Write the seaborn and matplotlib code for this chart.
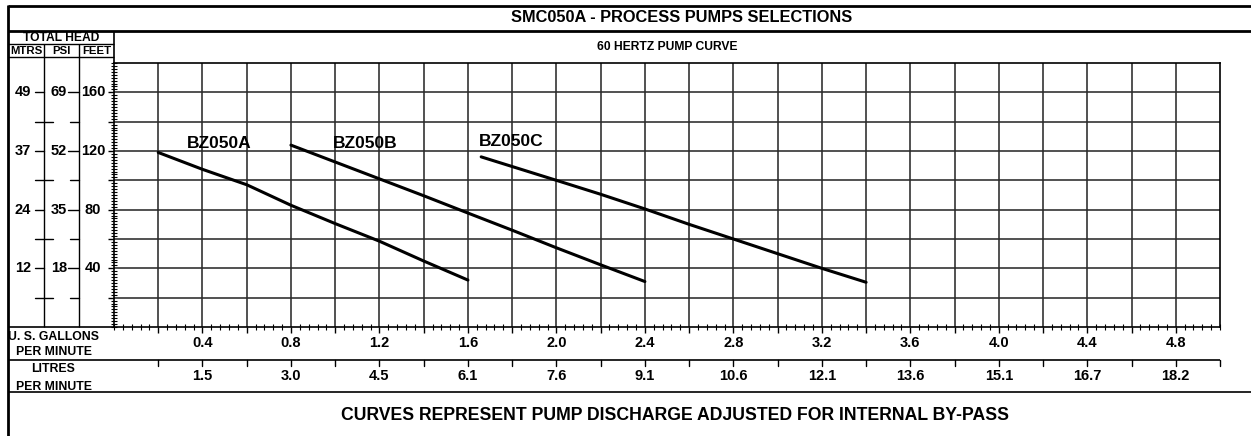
import numpy as np
import pandas as pd
import matplotlib
matplotlib.use('Agg')
import matplotlib.pyplot as plt
import matplotlib.transforms as mtransforms
from matplotlib.ticker import MultipleLocator
import seaborn as sns

# ==========================
# data
# ==========================
pumps = ['BZ050A', 'BZ050B', 'BZ050C']
flow_a = [0.2, 0.4, 0.6, 0.8, 1.0, 1.2, 1.4, 1.6]
head_a = [119, 107.5, 97, 83, 70.5, 58.5, 45, 32]
flow_b = [0.8, 1.0, 1.2, 1.4, 1.6, 1.8, 2.0, 2.2, 2.4]
head_b = [124, 112.5, 101, 89.5, 77.7, 66, 54, 42.4, 31]
flow_c = [1.66, 2.0, 2.2, 2.4, 2.6, 2.8, 3.0, 3.2, 3.4]
head_c = [116, 100, 90.5, 80.5, 70, 60, 50, 40, 30.5]

# where the pump names sit (gpm, feet)
label_flow = [0.33, 0.99, 1.65]
label_head = [122, 122, 123.5]

# head scales, all tied to the feet positions
feet_ticks = [40, 80, 120, 160]
feet_labels = ['40', '80', '120', '160']
mtrs_labels = ['12', '24', '37', '49']
psi_labels = ['18', '35', '52', '69']
feet_minor_rows = [20, 60, 100, 140]

# flow scales
gpm_ticks = [0.4, 0.8, 1.2, 1.6, 2.0, 2.4, 2.8, 3.2, 3.6, 4.0, 4.4, 4.8]
gpm_labels = ['0.4', '0.8', '1.2', '1.6', '2.0', '2.4', '2.8', '3.2', '3.6', '4.0', '4.4', '4.8']
lpm_labels = ['1.5', '3.0', '4.5', '6.1', '7.6', '9.1', '10.6', '12.1', '13.6', '15.1', '16.7', '18.2']

df = pd.concat([
    pd.DataFrame({'flow': flow_a, 'head': head_a, 'pump': pumps[0]}),
    pd.DataFrame({'flow': flow_b, 'head': head_b, 'pump': pumps[1]}),
    pd.DataFrame({'flow': flow_c, 'head': head_c, 'pump': pumps[2]}),
])

# ==========================
# figure / layout (pixels of the 1251x436 sheet)
# ==========================
sns.set_theme(style='white')
plt.rcParams['font.family'] = ['Liberation Sans', 'DejaVu Sans']
plt.rcParams['font.weight'] = 'bold'
plt.rcParams['text.color'] = 'black'

W, H = 1251, 436
fig = plt.figure(figsize=(W / 100, H / 100), dpi=100)


def px_box(x0, y0, x1, y1):
    return [x0 / W, 1 - y1 / H, (x1 - x0) / W, (y1 - y0) / H]


ax = fig.add_axes(px_box(114, 63, 1220, 327))
ov = fig.add_axes([0, 0, 1, 1], zorder=5)
ov.set_xlim(0, W)
ov.set_ylim(H, 0)
ov.set_autoscale_on(False)
ov.axis('off')
ov.patch.set_alpha(0)

# ==========================
# main chart
# ==========================
sns.lineplot(data=df, x='flow', y='head', hue='pump', estimator=None, sort=False,
             palette={p: 'black' for p in pumps}, legend=False, lw=2.2, ax=ax)

ax.set_xlim(0, 5.0)
ax.set_ylim(0, 180)
ax.set_xlabel('')
ax.set_ylabel('')
ax.set_xticks(np.round(np.arange(0.2, 4.9, 0.2), 1))
ax.set_yticks(np.arange(20, 161, 20))
ax.xaxis.set_minor_locator(MultipleLocator(0.04))
ax.yaxis.set_minor_locator(MultipleLocator(2))
ax.tick_params(which='major', direction='out', length=4.3, width=1.0, color='black',
               labelbottom=False, labelleft=False, bottom=True, left=True)
ax.tick_params(which='minor', direction='inout', length=4.3, width=0.8, color='black',
               bottom=True, left=True)
ax.grid(True, which='major', color='#2a2a2a', lw=1.15)
for s in ax.spines.values():
    s.set_color('black')
    s.set_linewidth(1.2)

for name, fx, fy in zip(pumps, label_flow, label_head):
    ax.text(fx, fy, name, fontsize=12.5, fontweight='bold', ha='left', va='baseline')

# ==========================
# frame, header and side scales
# ==========================
def hline(y, x0, x1, lw=1.0):
    ov.plot([x0, x1], [y, y], color='black', lw=lw, solid_capstyle='butt')


def vline(x, y0, y1, lw=1.0):
    ov.plot([x, x], [y0, y1], color='black', lw=lw, solid_capstyle='butt')


vline(8, 5, 436, lw=2.0)
hline(6, 8, 1251, lw=2.0)
hline(31, 8, 1251, lw=2.0)
hline(44, 8, 114)
hline(57, 8, 114)
vline(114, 31, 63, lw=1.2)
vline(44, 44, 327)
vline(79, 44, 327)
hline(327, 8, 114, lw=1.2)
hline(360, 8, 1220, lw=1.2)
hline(392, 8, 1251, lw=1.2)

ov.text(682, 18, 'SMC050A - PROCESS PUMPS SELECTIONS', fontsize=11.8, ha='center', va='center')
ov.text(667, 47, '60 HERTZ PUMP CURVE', fontsize=8.7, ha='center', va='center')
ov.text(61, 38, 'TOTAL HEAD', fontsize=8.7, ha='center', va='center')
ov.text(26, 51, 'MTRS', fontsize=8.2, ha='center', va='center')
ov.text(61, 51, 'PSI', fontsize=8.2, ha='center', va='center')
ov.text(97, 51, 'FEET', fontsize=8.2, ha='center', va='center')
ov.text(54, 337, 'U. S. GALLONS', fontsize=8.8, ha='center', va='center')
ov.text(54, 352, 'PER MINUTE', fontsize=8.8, ha='center', va='center')
ov.text(53, 369, 'LITRES', fontsize=8.8, ha='center', va='center')
ov.text(54, 387, 'PER MINUTE', fontsize=8.8, ha='center', va='center')
ov.text(675, 415, 'CURVES REPRESENT PUMP DISCHARGE ADJUSTED FOR INTERNAL BY-PASS',
        fontsize=12.7, ha='center', va='center')

# left head columns: x in sheet pixels, y in feet
tr_y = mtransforms.blended_transform_factory(ov.transData, ax.transData)
for ft, m, p, f in zip(feet_ticks, mtrs_labels, psi_labels, feet_labels):
    ov.text(31, ft, m, fontsize=10.5, ha='right', va='center', transform=tr_y)
    ov.text(67, ft, p, fontsize=10.5, ha='right', va='center', transform=tr_y)
    ov.text(93, ft, f, fontsize=10.5, ha='center', va='center', transform=tr_y)
    ov.plot([35, 44], [ft, ft], color='black', lw=1.0, transform=tr_y)
    ov.plot([68, 79], [ft, ft], color='black', lw=1.0, transform=tr_y)
for ft in feet_minor_rows:
    ov.plot([35, 53], [ft, ft], color='black', lw=1.0, transform=tr_y)
    ov.plot([70, 79], [ft, ft], color='black', lw=1.0, transform=tr_y)

# bottom flow rows: x in gpm, y in sheet pixels
tr_x = mtransforms.blended_transform_factory(ax.transData, ov.transData)
for g, gl, ll in zip(gpm_ticks, gpm_labels, lpm_labels):
    ov.text(g, 343, gl, fontsize=10.5, ha='center', va='center', transform=tr_x)
    ov.text(g, 376, ll, fontsize=10.5, ha='center', va='center', transform=tr_x)
for g in np.round(np.arange(0.2, 5.01, 0.2), 1):
    ov.plot([g, g], [360, 366], color='black', lw=1.0, transform=tr_x)

fig.savefig('out.png', dpi=100)
